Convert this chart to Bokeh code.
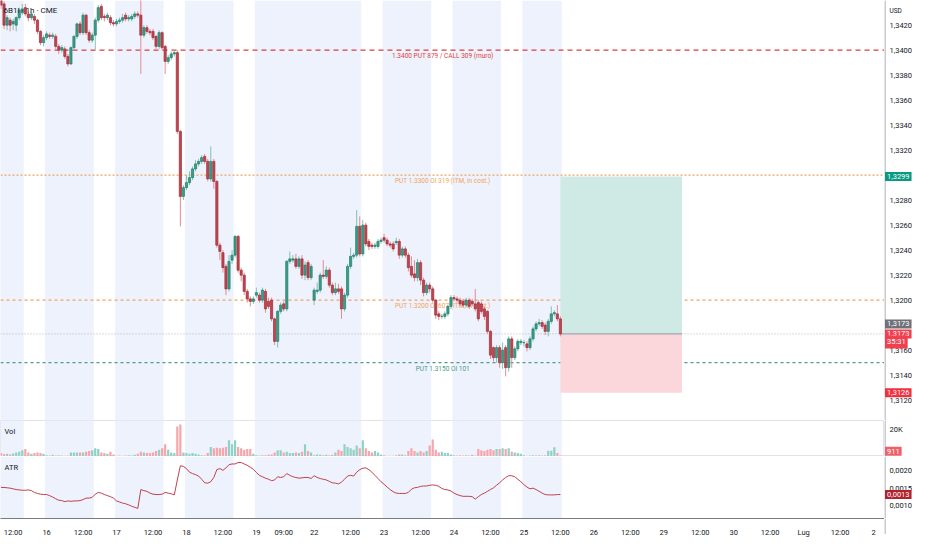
from bokeh.plotting import figure
from bokeh.layouts import column, row
from bokeh.models import Range1d, FixedTicker, Span, Label, BoxAnnotation
from bokeh.core.properties import value
from bokeh.embed import file_html
from bokeh.resources import INLINE

# ---------------- data (hourly bars, 6B1! CME) ----------------
open_ = [
1.3443,1.3437,1.3420,1.3424,1.3421,1.3420,1.3426,1.3430,1.3434,1.3429,
1.3426,1.3427,1.3424,1.3415,1.3406,1.3410,1.3412,1.3411,1.3411,1.3403,
1.3400,1.3401,1.3395,1.3389,1.3402,1.3411,1.3421,1.3414,1.3428,1.3414,
1.3408,1.3412,1.3424,1.3435,1.3427,1.3426,1.3426,1.3422,1.3421,1.3423,
1.3424,1.3428,1.3425,1.3425,1.3427,1.3429,1.3428,1.3412,1.3418,1.3415,
1.3415,1.3411,1.3403,1.3414,1.3403,1.3391,1.3394,1.3397,1.3398,1.3335,
1.3283,1.3290,1.3294,1.3298,1.3305,1.3309,1.3311,1.3315,1.3311,1.3297,
1.3311,1.3295,1.3244,1.3238,1.3227,1.3209,1.3232,1.3236,1.3251,1.3224,
1.3220,1.3207,1.3201,1.3199,1.3204,1.3204,1.3200,1.3207,1.3199,1.3200,
1.3185,1.3167,1.3191,1.3197,1.3193,1.3231,1.3232,1.3233,1.3227,1.3233,
1.3220,1.3230,1.3218,1.3200,1.3207,1.3208,1.3220,1.3219,1.3224,1.3212,
1.3206,1.3209,1.3209,1.3193,1.3204,1.3227,1.3235,1.3236,1.3259,1.3237,
1.3260,1.3247,1.3244,1.3243,1.3243,1.3247,1.3250,1.3248,1.3245,1.3245,
1.3246,1.3247,1.3236,1.3241,1.3236,1.3227,1.3221,1.3218,1.3230,1.3216,
1.3206,1.3212,1.3209,1.3200,1.3189,1.3187,1.3187,1.3189,1.3195,1.3202,
1.3201,1.3200,1.3199,1.3196,1.3200,1.3199,1.3197,1.3198,1.3197,1.3193,
1.3191,1.3175,1.3162,1.3154,1.3162,1.3150,1.3162,1.3146,1.3169,1.3154,
1.3161,1.3166,1.3166,1.3165,1.3162,1.3169,1.3177,1.3181,1.3182,1.3180,
1.3175,1.3183,1.3189,1.3189,1.3185]
high = [
1.3446,1.3439,1.3428,1.3426,1.3425,1.3427,1.3434,1.3437,1.3437,1.3431,
1.3431,1.3429,1.3425,1.3416,1.3412,1.3415,1.3414,1.3414,1.3413,1.3405,
1.3404,1.3403,1.3397,1.3403,1.3412,1.3422,1.3423,1.3430,1.3429,1.3416,
1.3414,1.3426,1.3436,1.3437,1.3429,1.3430,1.3428,1.3424,1.3425,1.3426,
1.3429,1.3430,1.3428,1.3429,1.3431,1.3431,1.3445,1.3420,1.3420,1.3417,
1.3417,1.3412,1.3416,1.3415,1.3404,1.3396,1.3399,1.3400,1.3400,1.3336,
1.3292,1.3300,1.3303,1.3307,1.3312,1.3313,1.3316,1.3317,1.3313,1.3323,
1.3313,1.3296,1.3246,1.3240,1.3229,1.3236,1.3240,1.3252,1.3252,1.3226,
1.3222,1.3209,1.3203,1.3203,1.3210,1.3206,1.3210,1.3209,1.3202,1.3202,
1.3186,1.3192,1.3198,1.3199,1.3232,1.3239,1.3236,1.3237,1.3235,1.3236,
1.3231,1.3232,1.3229,1.3210,1.3214,1.3222,1.3232,1.3227,1.3226,1.3214,
1.3214,1.3213,1.3211,1.3206,1.3229,1.3242,1.3238,1.3272,1.3267,1.3264,
1.3262,1.3249,1.3246,1.3246,1.3249,1.3250,1.3253,1.3250,1.3247,1.3247,
1.3250,1.3249,1.3243,1.3243,1.3238,1.3235,1.3232,1.3233,1.3232,1.3218,
1.3214,1.3214,1.3211,1.3201,1.3191,1.3189,1.3191,1.3196,1.3204,1.3204,
1.3203,1.3202,1.3201,1.3202,1.3202,1.3201,1.3209,1.3200,1.3199,1.3195,
1.3192,1.3176,1.3163,1.3164,1.3164,1.3166,1.3164,1.3171,1.3171,1.3163,
1.3169,1.3169,1.3168,1.3167,1.3171,1.3179,1.3183,1.3185,1.3184,1.3182,
1.3185,1.3195,1.3192,1.3196,1.3187]
low = [
1.3433,1.3417,1.3416,1.3415,1.3416,1.3415,1.3424,1.3428,1.3427,1.3423,
1.3424,1.3421,1.3413,1.3404,1.3403,1.3408,1.3409,1.3409,1.3401,1.3397,
1.3398,1.3393,1.3387,1.3388,1.3400,1.3409,1.3412,1.3412,1.3412,1.3406,
1.3406,1.3400,1.3422,1.3424,1.3423,1.3424,1.3420,1.3419,1.3419,1.3421,
1.3422,1.3423,1.3423,1.3423,1.3425,1.3426,1.3381,1.3410,1.3413,1.3412,
1.3408,1.3401,1.3401,1.3400,1.3381,1.3389,1.3392,1.3395,1.3333,1.3259,
1.3280,1.3288,1.3292,1.3296,1.3303,1.3307,1.3309,1.3309,1.3295,1.3295,
1.3289,1.3242,1.3232,1.3222,1.3204,1.3207,1.3229,1.3234,1.3222,1.3215,
1.3204,1.3198,1.3195,1.3197,1.3202,1.3198,1.3198,1.3190,1.3193,1.3183,
1.3164,1.3162,1.3189,1.3191,1.3191,1.3229,1.3230,1.3225,1.3225,1.3217,
1.3216,1.3216,1.3216,1.3196,1.3205,1.3206,1.3217,1.3217,1.3210,1.3204,
1.3204,1.3205,1.3185,1.3191,1.3202,1.3225,1.3233,1.3234,1.3235,1.3235,
1.3243,1.3240,1.3241,1.3241,1.3241,1.3245,1.3246,1.3243,1.3242,1.3239,
1.3244,1.3233,1.3234,1.3234,1.3223,1.3218,1.3215,1.3215,1.3212,1.3203,
1.3204,1.3206,1.3198,1.3185,1.3184,1.3185,1.3185,1.3187,1.3193,1.3199,
1.3198,1.3195,1.3194,1.3194,1.3193,1.3195,1.3191,1.3183,1.3189,1.3184,
1.3173,1.3153,1.3151,1.3150,1.3146,1.3145,1.3139,1.3143,1.3146,1.3152,
1.3159,1.3164,1.3163,1.3159,1.3160,1.3167,1.3175,1.3179,1.3177,1.3172,
1.3171,1.3181,1.3187,1.3183,1.3171]
close = [
1.3436,1.3420,1.3426,1.3420,1.3423,1.3426,1.3432,1.3433,1.3429,1.3426,
1.3429,1.3424,1.3415,1.3406,1.3410,1.3413,1.3411,1.3412,1.3403,1.3400,
1.3402,1.3395,1.3389,1.3402,1.3411,1.3421,1.3414,1.3428,1.3414,1.3408,
1.3412,1.3424,1.3434,1.3426,1.3426,1.3428,1.3422,1.3421,1.3423,1.3424,
1.3426,1.3425,1.3426,1.3427,1.3429,1.3428,1.3412,1.3418,1.3415,1.3414,
1.3410,1.3403,1.3414,1.3402,1.3391,1.3394,1.3397,1.3398,1.3335,1.3283,
1.3290,1.3294,1.3298,1.3305,1.3309,1.3311,1.3314,1.3311,1.3297,1.3311,
1.3295,1.3244,1.3239,1.3226,1.3209,1.3231,1.3236,1.3251,1.3224,1.3220,
1.3207,1.3201,1.3199,1.3201,1.3206,1.3200,1.3208,1.3193,1.3195,1.3185,
1.3167,1.3191,1.3196,1.3193,1.3231,1.3233,1.3233,1.3227,1.3233,1.3220,
1.3228,1.3218,1.3227,1.3208,1.3208,1.3220,1.3219,1.3224,1.3212,1.3206,
1.3209,1.3207,1.3193,1.3204,1.3227,1.3235,1.3236,1.3259,1.3237,1.3260,
1.3245,1.3243,1.3243,1.3244,1.3247,1.3248,1.3248,1.3245,1.3244,1.3241,
1.3247,1.3236,1.3241,1.3236,1.3226,1.3220,1.3218,1.3230,1.3216,1.3206,
1.3212,1.3209,1.3200,1.3188,1.3187,1.3187,1.3189,1.3195,1.3202,1.3201,
1.3200,1.3197,1.3196,1.3200,1.3195,1.3197,1.3193,1.3185,1.3191,1.3187,
1.3175,1.3156,1.3154,1.3162,1.3150,1.3160,1.3146,1.3169,1.3154,1.3161,
1.3167,1.3167,1.3166,1.3162,1.3169,1.3177,1.3181,1.3182,1.3179,1.3175,
1.3183,1.3189,1.3190,1.3185,1.3173]
volume = [
2500,1800,2000,1500,2200,3000,3500,4500,5500,3000,
2000,2500,3000,2500,2000,1000,800,1200,800,1000,
800,600,800,3000,3000,3000,3000,3000,3500,4000,
4500,6000,5500,3000,2500,2000,3500,1500,500,800,
600,700,1000,800,1200,2000,3500,3000,2500,2500,
3000,4000,5000,6000,9000,5000,3000,2500,22000,23500,
3000,2500,2000,2500,2000,1500,1000,1000,2500,7000,
6000,6500,6000,6500,7000,12000,9000,12000,7000,6000,
5000,5500,5500,2000,1000,800,1000,1000,1200,1500,
3000,4500,4500,3000,3500,2500,2500,3000,2500,3500,
9000,4000,3000,1000,1500,1200,1000,1200,1000,1200,
3000,5000,4000,9000,7000,6000,5000,8000,6000,12000,
6000,4000,3000,4000,3000,1500,1000,500,600,500,
1000,1500,1500,1000,4000,6000,4000,3000,4000,3000,
4000,8000,12500,5000,3000,3500,2500,2500,1500,1000,
800,1000,800,1000,800,1200,800,5500,4500,4000,
5000,5500,4500,5500,5500,6000,5500,6000,3500,3000,
2500,2000,1000,600,800,1000,800,1000,800,1000,
4300,4300,6700,2500,911]
atr = [
0.00152,0.00152,0.00151,0.00150,0.00148,0.00146,0.00145,0.00144,0.00144,0.00145,
0.00143,0.00138,0.00135,0.00133,0.00132,0.00132,0.00129,0.00125,0.00120,0.00116,
0.00115,0.00112,0.00114,0.00113,0.00114,0.00114,0.00115,0.00118,0.00122,0.00122,
0.00124,0.00133,0.00138,0.00136,0.00132,0.00129,0.00126,0.00122,0.00114,0.00111,
0.00108,0.00106,0.00103,0.00099,0.00096,0.00093,0.00146,0.00143,0.00141,0.00136,
0.00133,0.00132,0.00132,0.00133,0.00138,0.00136,0.00134,0.00131,0.00173,0.00213,
0.00211,0.00205,0.00195,0.00191,0.00188,0.00184,0.00175,0.00165,0.00164,0.00168,
0.00180,0.00202,0.00205,0.00200,0.00207,0.00216,0.00218,0.00218,0.00222,0.00222,
0.00218,0.00214,0.00209,0.00203,0.00194,0.00186,0.00182,0.00178,0.00175,0.00171,
0.00173,0.00182,0.00180,0.00182,0.00191,0.00186,0.00182,0.00180,0.00178,0.00179,
0.00180,0.00180,0.00177,0.00185,0.00180,0.00177,0.00175,0.00173,0.00169,0.00165,
0.00164,0.00162,0.00167,0.00175,0.00184,0.00186,0.00184,0.00195,0.00202,0.00206,
0.00207,0.00202,0.00195,0.00186,0.00177,0.00168,0.00161,0.00153,0.00146,0.00140,
0.00136,0.00135,0.00135,0.00135,0.00138,0.00147,0.00151,0.00152,0.00155,0.00156,
0.00156,0.00158,0.00159,0.00158,0.00155,0.00149,0.00146,0.00145,0.00142,0.00136,
0.00132,0.00129,0.00127,0.00127,0.00127,0.00126,0.00119,0.00126,0.00132,0.00136,
0.00141,0.00146,0.00151,0.00158,0.00165,0.00173,0.00180,0.00185,0.00185,0.00182,
0.00175,0.00168,0.00160,0.00153,0.00148,0.00150,0.00146,0.00141,0.00136,0.00132,
0.00131,0.00131,0.00131,0.00132,0.00132]

# session background bands (bar index, start/end)
session_start = [-0.5, 14.5, 37.5, 60.5, 83.5, 125.5, 148.5, 171.5]
session_end = [7.5, 30.5, 53.5, 76.5, 118.5, 141.5, 164.5, 184.5]

x_ticks = [4, 15, 27, 38, 50, 61, 73, 84, 93, 103, 115, 126, 138, 149, 161,
           172, 184, 195, 207, 218, 230, 241, 253, 264, 276, 287]
x_tick_labels = ["12:00", "16", "12:00", "17", "12:00", "18", "12:00", "19",
                 "09:00", "22", "12:00", "23", "12:00", "24", "12:00", "25",
                 "12:00", "26", "12:00", "29", "12:00", "30", "12:00", "Lug",
                 "12:00", "2"]

price_ticks = [1.3120, 1.3140, 1.3160, 1.3200, 1.3220, 1.3240, 1.3260,
               1.3280, 1.3320, 1.3340, 1.3360, 1.3380, 1.3400, 1.3420]
price_tick_labels = ["1,3120", "1,3140", "1,3160", "1,3200", "1,3220",
                     "1,3240", "1,3260", "1,3280", "1,3320", "1,3340",
                     "1,3360", "1,3380", "1,3400", "1,3420"]
vol_ticks = [20000]
vol_tick_labels = ["20K"]
atr_ticks = [0.0010, 0.0015, 0.0020]
atr_tick_labels = ["0,0010", "0,0015", "0,0020"]

level_prices = [1.3400, 1.3300, 1.3200, 1.3150]
level_texts = ["1.3400 PUT 879 / CALL 309 (muro)",
               "PUT 1.3300 OI 319 (ITM, in cost.)",
               "PUT 1.3200 OI 607 (ITM, in cost.)",
               "PUT 1.3150 OI 101"]
level_colors = ["#dc3f3f", "#f2a35e", "#f2a35e", "#4f9a8a"]
level_dashes = ["5 4", "2 2", "3 3", "3 3"]

last_price = 1.3173
target_price = 1.3299
stop_price = 1.3126
position_start = 184
position_end = 224
countdown = "35:31"
title_text = "6B1! \u00b7 1h \u00b7 CME"

# ---------------- styling / layout ----------------
MAIN_W = 884
SIDE_W = 32
FONT = "Roboto"
TXT = "#131722"
AXIS_COL = "#9598a1"
xr = Range1d(-0.16, 290.6)
side_xr = Range1d(0, 32)
idx = list(range(len(close)))
up = [c >= o for o, c in zip(open_, close)]

price_range = Range1d(1.31037, 1.34397)
vol_range = Range1d(0, 26400)
atr_range = Range1d(0.000646, 0.00239)


def make_main(height, y_range, with_xaxis=False):
    f = figure(width=MAIN_W, height=height, x_range=xr, y_range=y_range,
               output_backend="svg", toolbar_location=None,
               x_axis_location="below" if with_xaxis else None,
               y_axis_location=None, min_border=0,
               background_fill_color="white", border_fill_color="white",
               outline_line_color=None)
    f.grid.visible = False
    for s, e in zip(session_start, session_end):
        f.add_layout(BoxAnnotation(left=s, right=e, fill_color="#eef2fc",
                                   fill_alpha=1.0, line_color=None,
                                   level="underlay"))
    return f


def make_side(height, y_range, ticks=None, labels=None):
    f = figure(width=SIDE_W, height=height, x_range=side_xr, y_range=y_range,
               output_backend="svg", toolbar_location=None,
               x_axis_location=None, y_axis_location=None, min_border=0,
               background_fill_color="white", border_fill_color="white",
               outline_line_color=None)
    f.grid.visible = False
    f.add_layout(Span(location=0.5, dimension="height", line_color=AXIS_COL,
                      line_width=1))
    if ticks:
        f.text(x=[5] * len(ticks), y=ticks, text=labels,
               text_font=value(FONT), text_font_size=value("7.5px"),
               text_color=TXT, text_baseline="middle", text_align="left")
    return f


def tag(f, y, text, bg, y_off=0):
    f.add_layout(Label(x=0.5, y=y, y_offset=y_off, text=text,
                       text_color="white", text_font=FONT,
                       text_font_size="7.5px", text_baseline="middle",
                       text_align="left", background_fill_color=bg,
                       padding=2))


# ---- price pane ----
p = make_main(420, price_range)
for lv, txt, col, dash in zip(level_prices, level_texts, level_colors, level_dashes):
    p.add_layout(Span(location=lv, dimension="width", line_color=col,
                      line_dash=dash, line_width=1.1, level="underlay"))
    p.add_layout(Label(x=145.3, y=lv, y_offset=-6, text=txt, text_color=col,
                       text_font=FONT, text_font_size="6.5px",
                       text_align="center", text_baseline="middle",
                       level="underlay"))
p.add_layout(Span(location=last_price, dimension="width", line_color="#b2b5be",
                  line_dash="1 2", line_width=1, level="underlay"))

# long position tool
p.quad(left=[position_start], right=[position_end], bottom=[last_price],
       top=[target_price], fill_color="#cfeae4", line_color=None)
p.quad(left=[position_start], right=[position_end], bottom=[stop_price],
       top=[last_price], fill_color="#fbd6da", line_color=None)
p.segment(x0=[position_start], x1=[position_end], y0=[last_price],
          y1=[last_price], line_color="#9598a1", line_width=1)

# candles
wick_col = ["#7cc3b5" if u else "#e58a93" for u in up]
body_fill = ["#36a08a" if u else "#c4434f" for u in up]
body_line = ["#267a69" if u else "#9c2f3a" for u in up]
p.segment(x0=idx, x1=idx, y0=low, y1=high, line_color=wick_col, line_width=1)
p.vbar(x=idx, width=0.72, top=[max(o, c) for o, c in zip(open_, close)],
       bottom=[min(o, c) for o, c in zip(open_, close)],
       fill_color=body_fill, line_color=body_line, line_width=0.7)

p.add_layout(Label(x=xr.start, y=price_range.end, x_offset=3, y_offset=-10,
                   text=title_text, text_font=FONT, text_font_size="8px",
                   text_color=TXT, text_baseline="middle"))

sp = make_side(420, price_range, price_ticks, price_tick_labels)
sp.add_layout(Label(x=5, y=price_range.end, y_offset=-10, text="USD",
                    text_font=FONT, text_font_size="6.5px", text_color=TXT,
                    text_baseline="middle"))
tag(sp, target_price, "1,3299", "#089981")
tag(sp, last_price, "1,3173", "#6f7079", 10)
tag(sp, last_price, "1,3173", "#f0404f", 0)
tag(sp, last_price, countdown, "#f0404f", -8)
tag(sp, stop_price, "1,3126", "#f0303f")

# ---- volume pane ----
pv = make_main(36, vol_range)
pv.outline_line_color = "#e0e3eb"
vol_col = ["#8fd1c5" if u else "#f6a5ab" for u in up]
pv.vbar(x=idx, width=0.72, top=volume, bottom=0, fill_color=vol_col,
        line_color=None)
pv.add_layout(Label(x=xr.start, y=vol_range.end, x_offset=4, y_offset=-11,
                    text="Vol", text_font=FONT, text_font_size="7.5px",
                    text_color=TXT, text_baseline="middle"))
sv = make_side(36, vol_range, vol_ticks, vol_tick_labels)
tag(sv, volume[-1], "911", "#f0606b", 4)

# ---- ATR pane ----
pa = make_main(62, atr_range)
pa.line(idx, atr, line_color="#c0414e", line_width=1)
pa.add_layout(Label(x=xr.start, y=atr_range.end, x_offset=4, y_offset=-11,
                    text="ATR", text_font=FONT, text_font_size="7.5px",
                    text_color=TXT, text_baseline="middle"))
sa = make_side(62, atr_range, atr_ticks, atr_tick_labels)
tag(sa, atr[-1], "0,0013", "#b3202e")

# ---- time axis ----
px = make_main(16, Range1d(0, 1), with_xaxis=True)
xa = px.xaxis[0]
xa.ticker = FixedTicker(ticks=x_ticks)
xa.major_label_overrides = dict(zip(x_ticks, x_tick_labels))
xa.axis_line_color = "#787b86"
xa.major_tick_line_color = None
xa.minor_tick_line_color = None
xa.major_label_text_font_size = "7.5px"
xa.major_label_text_font = FONT
xa.major_label_text_color = TXT
xa.major_label_standoff = 3
sx = make_side(16, Range1d(0, 1))

layout = row(column(p, pv, pa, px, spacing=0),
             column(sp, sv, sa, sx, spacing=0), spacing=0)
open("out.html", "w").write(file_html(layout, INLINE))
